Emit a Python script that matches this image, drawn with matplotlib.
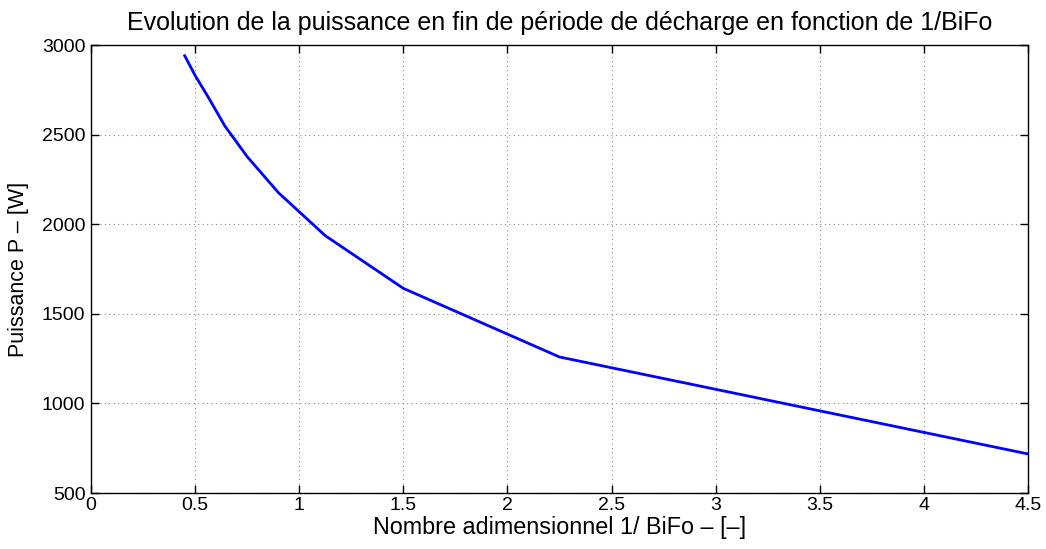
import matplotlib.pyplot as plt

# 1/BiFo values and end-of-discharge power
inv_bifo = [0.45, 0.5, 0.5625, 0.6429, 0.75, 0.9, 1.125, 1.5, 2.25, 4.5]
power_w = [2940, 2830, 2710, 2548, 2377, 2176, 1936, 1642, 1259, 718]

xticks = [0, 0.5, 1, 1.5, 2, 2.5, 3, 3.5, 4, 4.5]
xtick_labels = ["0", "0.5", "1", "1.5", "2", "2.5", "3", "3.5", "4", "4.5"]
yticks = [500, 1000, 1500, 2000, 2500, 3000]

plt.rcParams["font.family"] = ["Liberation Sans", "DejaVu Sans"]

fig = plt.figure(figsize=(10.46, 5.49), dpi=100)
ax = fig.add_axes([91 / 1046, 1 - 493 / 549, (1028 - 91) / 1046, (493 - 45) / 549])

ax.plot(inv_bifo, power_w, color="#0000ff", linewidth=2)

ax.set_xlim(0, 4.5)
ax.set_ylim(500, 3000)
ax.set_xticks(xticks)
ax.set_xticklabels(xtick_labels)
ax.set_yticks(yticks)
ax.grid(True, linestyle=(0, (1, 3)), color="#8c8c8c", linewidth=0.8)
ax.tick_params(direction="in", top=True, right=True, labelsize=14, length=6,
               width=1)
ax.tick_params(axis="x", pad=3)
ax.tick_params(axis="y", pad=4)
for s in ax.spines.values():
    s.set_linewidth(1)

ax.set_xlabel("Nombre adimensionnel 1/ BiFo \u2013 [\u2013]", fontsize=16.8, labelpad=1)
ax.set_ylabel("Puissance P \u2013 [W]", fontsize=15.5, labelpad=9)
ax.set_title("Evolution de la puissance en fin de période de décharge en fonction de 1/BiFo",
             fontsize=18, pad=11)

fig.savefig("out.png", dpi=100)
